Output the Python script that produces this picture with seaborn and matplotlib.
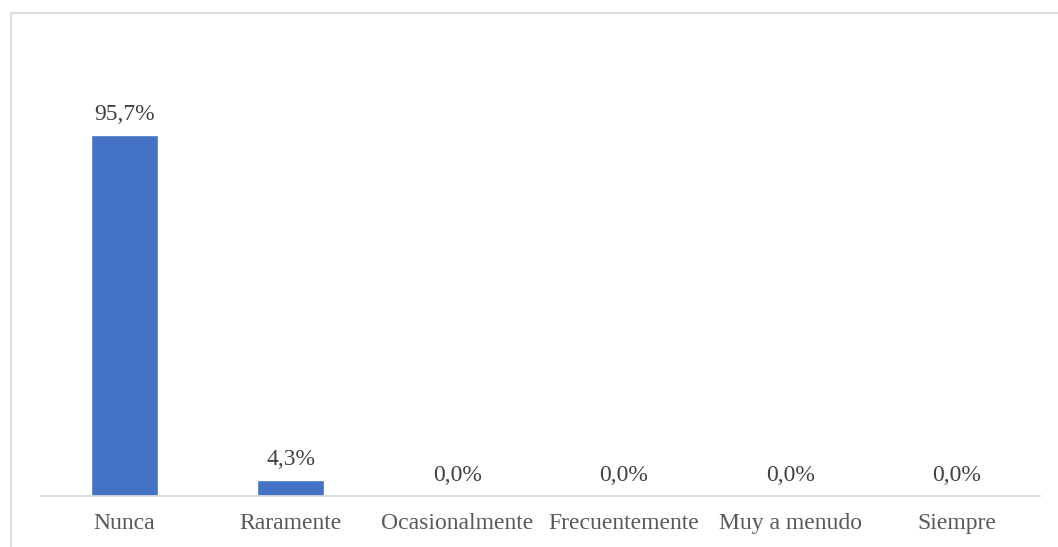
import matplotlib
matplotlib.use("Agg")
import matplotlib.pyplot as plt
import seaborn as sns
import pandas as pd
from matplotlib.patches import Rectangle

categories = ["Nunca", "Raramente", "Ocasionalmente", "Frecuentemente", "Muy a menudo", "Siempre"]
values = [95.7, 4.3, 0.0, 0.0, 0.0, 0.0]
labels = ["95,7%", "4,3%", "0,0%", "0,0%", "0,0%", "0,0%"]

sns.set_theme(style="white")
plt.rcParams['font.family'] = ['Liberation Serif', 'DejaVu Serif']

W, H = 1058, 547
fig = plt.figure(figsize=(W / 100, H / 100), dpi=100)
left, right, bottom, top = 41, 1040, 496, 119
ax = fig.add_axes([left / W, 1 - bottom / H, (right - left) / W, (bottom - top) / H])

df = pd.DataFrame({"cat": categories, "val": values})
sns.barplot(data=df, x="cat", y="val", color="#4472C4", width=0.4, ax=ax, saturation=1)

ax.set_ylim(0, 100)
ax.set_xlim(-0.5, len(categories) - 0.5)
for s in ["top", "right", "left"]:
    ax.spines[s].set_visible(False)
ax.spines["bottom"].set_color("#D9D9D9")
ax.spines["bottom"].set_linewidth(1.3)
ax.set_yticks([])
ax.set_xlabel("")
ax.set_ylabel("")
ax.tick_params(axis="x", length=0, pad=12, labelsize=17, labelcolor="#595959")

for i, (v, lab) in enumerate(zip(values, labels)):
    ax.annotate(lab, (i, v), xytext=(0, 11), textcoords="offset points",
                ha="center", va="baseline", fontsize=17, color="#404040")

fig.patches.append(Rectangle((11 / W, -0.1), 1.2, 1 - 13 / H + 0.1, transform=fig.transFigure,
                             fill=False, edgecolor="#D9D9D9", linewidth=1.3))

fig.savefig("out.png", dpi=100, facecolor="white")
